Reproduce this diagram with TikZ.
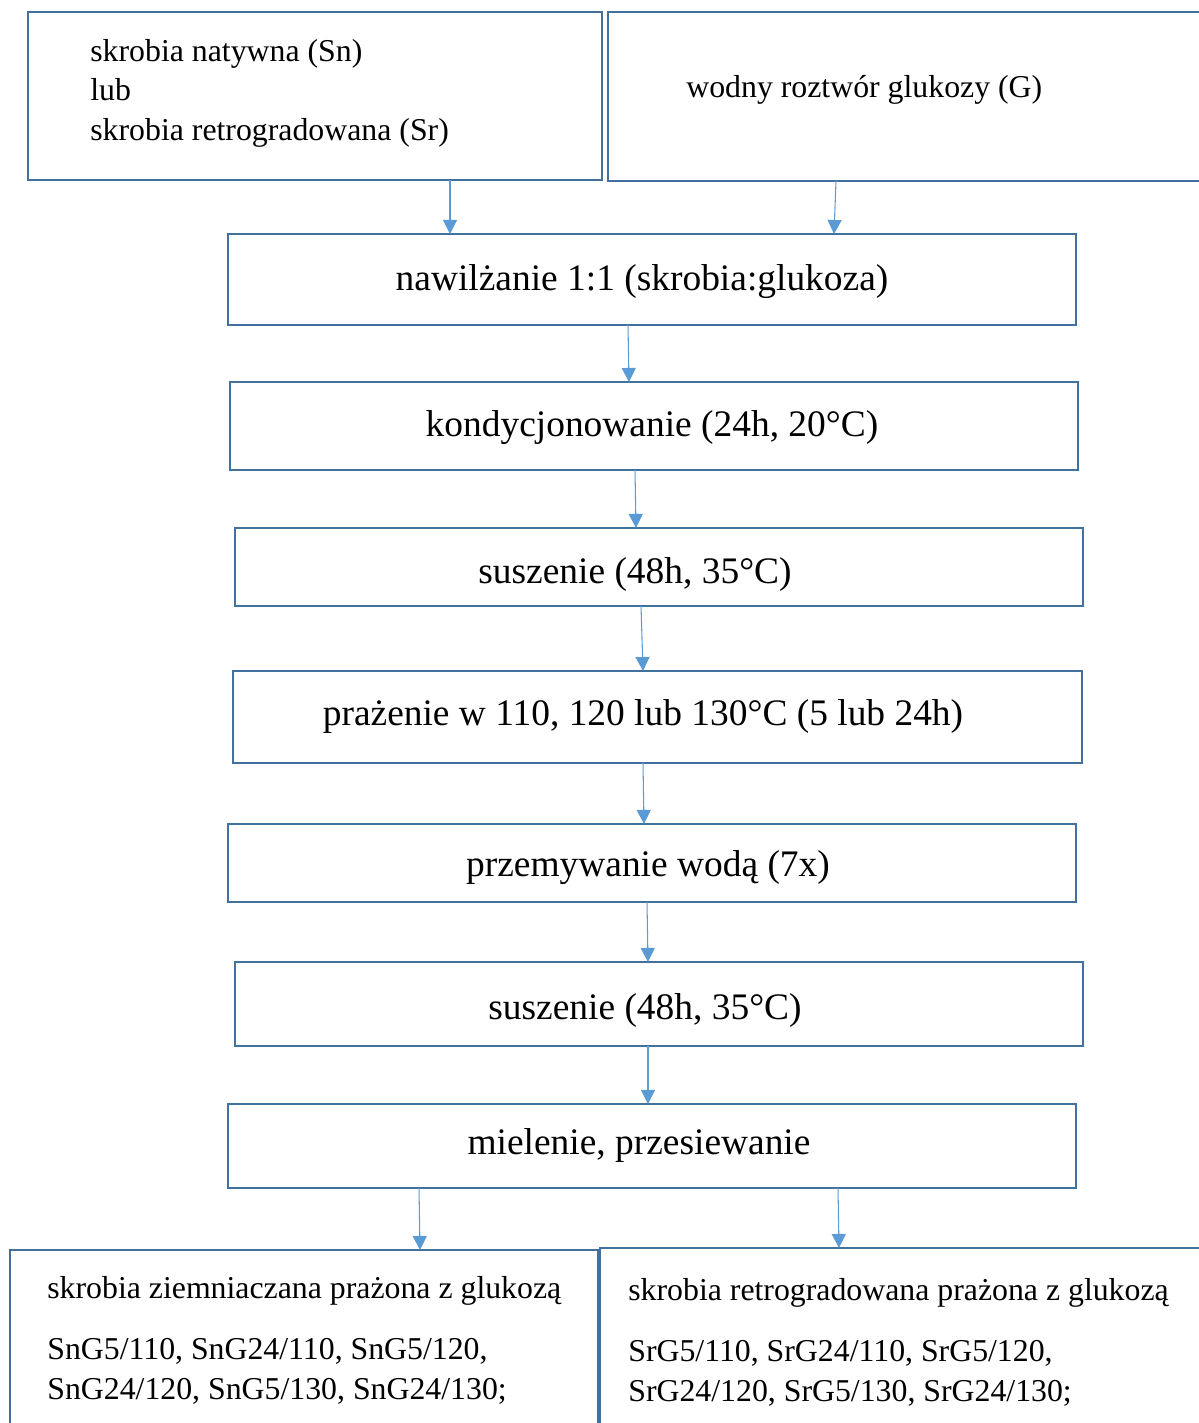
\documentclass[tikz,border=0pt]{standalone}
\usepackage{fontspec}
\setmainfont{Liberation Serif}
\usetikzlibrary{arrows.meta,fit}
\definecolor{boxblue}{HTML}{41719C}
\definecolor{arrblue}{HTML}{5B9BD5}
\begin{document}
\begin{tikzpicture}[x=0.02cm,y=-0.02cm,
 box/.style={draw=boxblue,line width=1.3pt,inner sep=0pt,outer sep=0pt},
 arr/.style={draw=arrblue,line width=0.6pt,-{Triangle[length=8pt,width=8pt]}},
 small/.style={font=\fontsize{18.1}{22.7}\selectfont,inner sep=0pt,anchor=base west},
 big/.style={font=\fontsize{21.3}{25}\selectfont,inner sep=0pt,anchor=center},
]
\useasboundingbox (0,0) rectangle (1199,1423);
\clip (0,0) rectangle (1199,1423);

% boxes
\node[box,fit={(28,12) (602,180)}] (A) {};
\node[box,fit={(608,12) (1215,181)}] (B) {};
\node[box,fit={(228,234) (1076,325)}] (n1) {};
\node[box,fit={(230,382) (1078,470)}] (n2) {};
\node[box,fit={(235,528) (1083,606)}] (n3) {};
\node[box,fit={(233,671) (1082,763)}] (n4) {};
\node[box,fit={(228,824) (1076,902)}] (n5) {};
\node[box,fit={(235,962) (1083,1046)}] (n6) {};
\node[box,fit={(228,1104) (1076,1188)}] (n7) {};
\node[box,fit={(10,1250) (598,1445)}] (L) {};
\node[box,fit={(600,1248) (1215,1445)}] (R) {};

% texts
\node[small] (a1) at (90,61) {skrobia natywna (Sn)};
\node[small] (a2) at (90,100) {lub};
\node[small] (a3) at (90,140) {skrobia retrogradowana (Sr)};
\node[small] (b1) at (686,97) {wodny roztwór glukozy (G)};

\node[big] (t1) at (642,282) {nawilżanie 1:1 (skrobia:glukoza)};
\node[big] (t2) at (652,428) {kondycjonowanie (24h, 20°C)};
\node[big] (t3) at (635,574) {suszenie (48h, 35°C)};
\node[big] (t4) at (643,716) {prażenie w 110, 120 lub 130°C (5 lub 24h)};
\node[big] (t5) at (648,868) {przemywanie wodą (7x)};
\node[big] (t6) at (645,1010) {suszenie (48h, 35°C)};
\node[big] (t7) at (639,1145) {mielenie, przesiewanie};

\node[small] (l1) at (47,1298) {skrobia ziemniaczana prażona z glukozą};
\node[small] (l2) at (47,1359) {SnG5/110, SnG24/110, SnG5/120,};
\node[small] (l3) at (47,1399) {SnG24/120, SnG5/130, SnG24/130;};
\node[small] (r1) at (628,1300) {skrobia retrogradowana prażona z glukozą};
\node[small] (r2) at (628,1361) {SrG5/110, SrG24/110, SrG5/120,};
\node[small] (r3) at (628,1401) {SrG24/120, SrG5/130, SrG24/130;};

% arrows
\draw[arr] (A.south -| 450,0) -- (n1.north -| 450,0);
\draw[arr] (B.south -| 836,0) -- (n1.north -| 834,0);
\draw[arr] (n1.south -| 628,0) -- (n2.north -| 629,0);
\draw[arr] (n2.south -| 635,0) -- (n3.north -| 636,0);
\draw[arr] (n3.south -| 641,0) -- (n4.north -| 643,0);
\draw[arr] (n4.south -| 643,0) -- (n5.north -| 644,0);
\draw[arr] (n5.south -| 647,0) -- (n6.north -| 648,0);
\draw[arr] (n6.south -| 648,0) -- (n7.north -| 648,0);
\draw[arr] (n7.south -| 419,0) -- (L.north -| 420,0);
\draw[arr] (n7.south -| 838,0) -- (R.north -| 839,0);
\end{tikzpicture}
\end{document}
